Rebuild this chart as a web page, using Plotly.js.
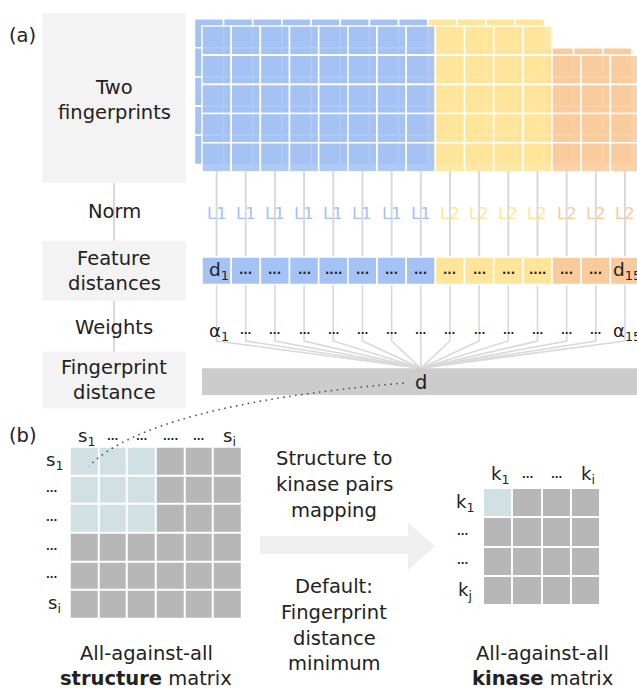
<!DOCTYPE html>
<html>
<head>
<meta charset="utf-8">
<script src="https://cdn.plot.ly/plotly-3.0.1.min.js"></script>
<style>html,body{margin:0;padding:0;background:#fff;overflow:hidden}</style>
</head>
<body>
<div id="chart" style="width:637px;height:688px"></div>
<script>
// ---- (a) fingerprint distance: 15 features in three groups ----
const featureGroup   = [0,0,0,0,0,0,0,0, 1,1,1,1, 2,2,2];   // physicochemical, distances, moments
const groupColors    = ['#a4c2f4', '#ffe599', '#f9cb9c'];
const featureRows    = [5,5,5,5,5,5,5,5, 5,5,5,5, 4,4,4];   // rows per feature
const normLabels     = ['L1','L1','L1','L1','L1','L1','L1','L1','L2','L2','L2','L2','L2','L2','L2'];
const distanceLabels = ['d<sub>1</sub>','...','...','...','....','...','...','...','...','...','...','....','...','...','d<sub>15</sub>'];
const weightLabels   = ['α<sub>1</sub>','...','...','...','...','...','...','...','...','...','...','...','...','...','α<sub>15</sub>'];
const stepLabels     = [['Two','fingerprints'], ['Norm'], ['Feature','distances'], ['Weights'], ['Fingerprint','distance']];
const fingerprintDistanceLabel = 'd';

// ---- (b) structure matrix -> kinase matrix ----
const structureMatrix = [
  [1,1,1,0,0,0],
  [1,1,1,0,0,0],
  [1,1,1,0,0,0],
  [0,0,0,0,0,0],
  [0,0,0,0,0,0],
  [0,0,0,0,0,0]
];
const structureColLabels = ['s<sub>1</sub>','...','...','....','...','s<sub>i</sub>'];
const structureRowLabels = ['s<sub>1</sub>','...','...','...','...','s<sub>i</sub>'];
const kinaseMatrix = [
  [1,0,0,0],
  [0,0,0,0],
  [0,0,0,0],
  [0,0,0,0]
];
const kinaseColLabels = ['k<sub>1</sub>','...','...','k<sub>i</sub>'];
const kinaseRowLabels = ['k<sub>1</sub>','...','...','k<sub>j</sub>'];
const mappingLabel = ['Structure to','kinase pairs','mapping'];
const defaultLabel = ['Default:','Fingerprint','distance','minimum'];
const structureCaption = ['All-against-all','<b>structure</b> matrix'];
const kinaseCaption = ['All-against-all','<b>kinase</b> matrix'];

// ---- drawing ----
const W = 637, H = 688;
const FONT = 'DejaVu Sans, sans-serif';
const INK = '#222222';
const LINE = '#d9d9d9';
const BIG = 19.5;

const shapes = [];
const annotations = [];

function rect(x0, y0, x1, y1, fill, opts) {
  opts = opts || {};
  shapes.push({
    type: 'rect', xref: 'x', yref: 'y', x0, y0, x1, y1,
    fillcolor: fill,
    line: { color: opts.lineColor || 'rgba(0,0,0,0)', width: opts.lineWidth || 0 },
    layer: 'above'
  });
}
function path(d, color, width, dash, fill) {
  shapes.push({
    type: 'path', xref: 'x', yref: 'y', path: d,
    fillcolor: fill || 'rgba(0,0,0,0)',
    line: { color: color || 'rgba(0,0,0,0)', width: width || 0, dash: dash || 'solid' },
    layer: 'above'
  });
}
function text(x, y, t, size, color, opts) {
  opts = opts || {};
  annotations.push({
    xref: 'x', yref: 'y', x, y, text: t, showarrow: false,
    xanchor: opts.xanchor || 'center', yanchor: 'middle',
    font: { family: FONT, size, color: color || INK }
  });
}
function hexA(hex, a) {
  const n = parseInt(hex.slice(1), 16);
  return `rgba(${n >> 16},${(n >> 8) & 255},${n & 255},${a})`;
}
const isDots = t => /^\.+$/.test(t);

// left column of step boxes with the connector behind them
const LX = 114;
path(`M ${LX} 182 L ${LX} 352`, LINE, 2);
const stepBoxes = [[13.3, 182.7], null, [240.7, 300.7], null, [351.7, 408.3]];
const stepTextY = [[87, 112], [211.7], [258, 283], [327.7], [367, 392]];
stepLabels.forEach((lines, k) => {
  if (stepBoxes[k]) rect(42.3, stepBoxes[k][0], 185.7, stepBoxes[k][1], '#f3f3f3');
  lines.forEach((ln, j) => text(LX, stepTextY[k][j], ln, BIG));
});
text(22, 35, '(a)', BIG);
text(23, 435, '(b)', BIG);

// fingerprint grids: second fingerprint behind, first in front
const P = 29.17, X0 = 202, Y0 = 26, NROW = 5;
const BDX = -7.6, BDY = -7.4;
const cx = i => X0 + (i + 0.5) * P;

featureGroup.forEach((g, i) => {
  for (let r = NROW - featureRows[i]; r < NROW; r++) {
    const x0 = X0 + BDX + i * P, y0 = Y0 + BDY + r * P;
    rect(x0, y0, x0 + P, y0 + P, groupColors[g], { lineColor: '#ffffff', lineWidth: 1.6 });
  }
});
featureGroup.forEach((g, i) => {
  for (let r = NROW - featureRows[i]; r < NROW; r++) {
    const x0 = X0 + i * P, y0 = Y0 + r * P;
    rect(x0, y0, x0 + P, y0 + P, hexA(groupColors[g], 0.88), { lineColor: 'rgba(255,255,255,0.95)', lineWidth: 1.6 });
  }
});

// per-feature connectors, norms, distances and weights
const D_TOP = 257, D_BOT = 284.5, BEND = 341, BAR_TOP = 368.3, BAR_BOT = 395;
const hub = cx(7);
featureGroup.forEach((g, i) => {
  const x = cx(i);
  path(`M ${x} ${Y0 + NROW * P - 1} L ${x} ${D_TOP}`, LINE, 2);
  path(`M ${x} ${D_BOT} L ${x} ${BEND} L ${hub} ${BAR_TOP}`, LINE, 1.6);
  text(x, 213, normLabels[i], 16.5, groupColors[g]);
  rect(X0 + i * P, D_TOP, X0 + (i + 1) * P, D_BOT, groupColors[g], { lineColor: '#ffffff', lineWidth: 1.6 });
  const dl = distanceLabels[i];
  if (isDots(dl)) text(x, 270, '<b>' + dl + '</b>', 11.5, INK);
  else text(x + 2, 271, dl, 18.5, INK);
  const wl = weightLabels[i];
  if (isDots(wl)) text(x, 330, '<b>' + wl + '</b>', 10, INK);
  else text(x + 2, 332, wl, 18, INK);
});
rect(X0, BAR_TOP, W + 2, BAR_BOT, '#cccccc');
text(hub, 382, fingerprintDistanceLabel, BIG);

// dotted link from the fingerprint distance to one matrix cell
path('M 404 383 Q 150 405 89 466', '#555555', 1.6, '1.6px,4.4px');

// mapping arrow and its notes
path('M 260 536 L 408 536 L 408 522.7 L 435 546 L 408 570 L 408 554 L 260 554 Z', null, 0, null, '#efefef');
mappingLabel.forEach((t, j) => text(334, 458 + j * 26, t, BIG));
defaultLabel.forEach((t, j) => text(334, 586.5 + j * 25.8, t, BIG));

// matrices as heatmaps
const SP = 28.67, SX0 = 69.7, SY0 = 446.7;
const KP = 29.33, KX0 = 483, KY0 = 488;
const centers = (x0, p, n) => Array.from({ length: n }, (_, j) => x0 + (j + 0.5) * p);
const sX = centers(SX0, SP, structureMatrix[0].length), sY = centers(SY0, SP, structureMatrix.length);
const kX = centers(KX0, KP, kinaseMatrix[0].length), kY = centers(KY0, KP, kinaseMatrix.length);
const cellScale = [[0, '#b7b7b7'], [1, '#d0e0e3']];
const heat = (z, x, y) => ({
  type: 'heatmap', z, x, y, zmin: 0, zmax: 1, colorscale: cellScale,
  showscale: false, xgap: 2, ygap: 2, hoverinfo: 'skip'
});

function axisLabel(x, y, t, dx) {
  if (isDots(t)) text(x, y - 1, '<b>' + t + '</b>', 10, INK);
  else text(x + dx, y, t, 18, INK);
}
structureColLabels.forEach((t, j) => axisLabel(sX[j], 437, t, 2));
structureRowLabels.forEach((t, j) => axisLabel(51, sY[j], t, 3));
kinaseColLabels.forEach((t, j) => axisLabel(kX[j], 475, t, 2));
kinaseRowLabels.forEach((t, j) => axisLabel(462, kY[j], t, 3));

structureCaption.forEach((t, j) => text(146, 653.5 + j * 24.5, t, BIG));
kinaseCaption.forEach((t, j) => text(542, 653.5 + j * 24.5, t, BIG));

const layout = {
  width: W, height: H,
  margin: { l: 0, r: 0, t: 0, b: 0, pad: 0 },
  paper_bgcolor: '#ffffff', plot_bgcolor: '#ffffff',
  showlegend: false,
  xaxis: { range: [0, W], visible: false, fixedrange: true },
  yaxis: { range: [H, 0], visible: false, fixedrange: true },
  shapes, annotations
};

Plotly.newPlot('chart', [heat(structureMatrix, sX, sY), heat(kinaseMatrix, kX, kY)], layout,
  { staticPlot: true, displayModeBar: false });
</script>
</body>
</html>
